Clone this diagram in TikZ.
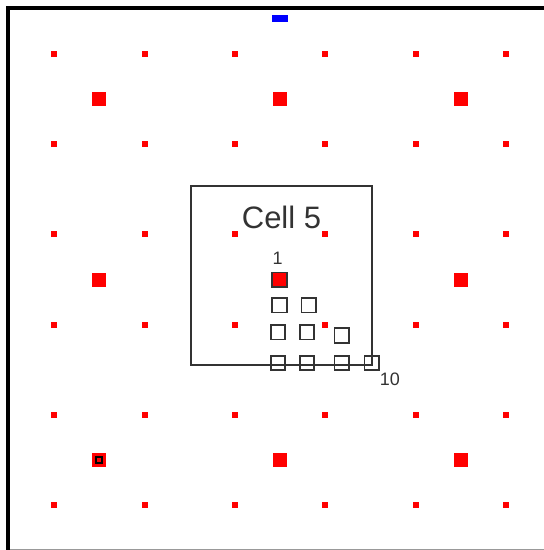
\documentclass[tikz,border=0pt]{standalone}
\usepackage{fontspec}
\setmainfont{Liberation Sans}
\definecolor{ink}{HTML}{333333}
\definecolor{rim}{HTML}{999999}
\begin{document}
\begin{tikzpicture}[x=1pt,y=-1pt,
  dot/.style={rectangle, fill=red, draw=none, inner sep=0pt, minimum size=6pt},
  hub/.style={rectangle, fill=red, draw=none, inner sep=0pt, minimum size=14pt},
  site/.style={rectangle, draw=ink, line width=1.8pt, inner sep=0pt, minimum size=14.5pt},
  tagbox/.style={rectangle, draw=black, line width=1.8pt, inner sep=0pt, minimum size=6pt},
  cellbox/.style={draw=ink, line width=1.6pt},
  lbl/.style={text=ink, inner sep=0pt, font=\fontsize{18}{20}\selectfont}]
\useasboundingbox (0,0) rectangle (544,550);

% frame edges
\draw[black, line width=4pt] (8.3,8) -- (544,8);
\draw[black, line width=4pt] (8.3,6) -- (8.3,550);
\draw[rim, line width=1pt] (10,549.5) -- (544,549.5);

% blue marker at the top
\fill[blue] (272,15) rectangle (288,22);

% fine lattice
\foreach \i/\x in {0/54,1/144.5,2/235,3/325.3,4/415.6,5/506}
  \foreach \j/\y in {0/53.5,1/144,2/234.3,3/324.6,4/414.9,5/505.2}
    \node[dot] (d\i\j) at (\x,\y) {};

% coarse lattice
\foreach \i/\x in {0/99.3,1/280,2/460.8}
  \foreach \j/\y in {0/99.3,1/279.7,2/460.3}
    \node[hub] (h\i\j) at (\x,\y) {};

% marked site
\node[tagbox] (m) at (h02) {};

% cell outline and title
\draw[cellbox] (191,186) rectangle (372,365);
\node[text=ink, inner sep=0pt, font=\fontsize{31}{35}\selectfont] (title) at (281.5,217.5) {Cell 5};

% triangular arrangement of sites
\node[site, fill=red] (s1) at (279.5,279.7) {};
\node[site] (s2) at (279.5,305.3) {};
\node[site] (s3) at (308.7,305.3) {};
\node[site] (s4) at (278,332.3) {};
\node[site] (s5) at (307,332.3) {};
\node[site] (s6) at (341.7,335.5) {};
\node[site] (s7) at (278,363) {};
\node[site] (s8) at (307,363) {};
\node[site] (s9) at (341.7,363) {};
\node[site] (s10) at (371.7,363) {};

\node[lbl] (l1) at (277.7,258) {1};
\node[lbl] (l10) at (390,379.5) {10};
\end{tikzpicture}
\end{document}
